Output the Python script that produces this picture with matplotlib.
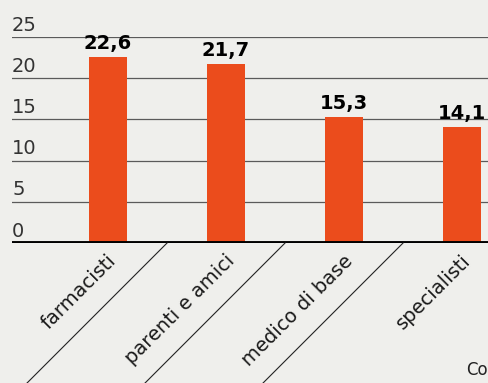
import matplotlib.pyplot as plt
from matplotlib.lines import Line2D
import numpy as np

# --- Dati ---
categorie = ['farmacisti', 'parenti e amici', 'medico di base', 'specialisti']
valori = [22.6, 21.7, 15.3, 14.1]
etichette = ['22,6', '21,7', '15,3', '14,1']
tick_y = [0, 5, 10, 15, 20, 25]

sfondo = '#efefec'
arancio = '#eb4c1c'

fig = plt.figure(figsize=(4.88, 3.83), dpi=100, facecolor=sfondo)
ax = fig.add_axes([12 / 488, 1 - 243 / 383, 476 / 488, 206 / 383])
ax.set_facecolor(sfondo)

x = np.arange(len(categorie))
ax.bar(x, valori, width=0.32, color=arancio, zorder=3)

# valori sopra le barre
for xi, v, t in zip(x, valori, etichette):
    ax.text(xi, v + 0.5, t, ha='center', va='bottom', fontsize=14,
            fontweight='heavy', color='black', zorder=4)

ax.set_xlim(-0.814, 3.22)
ax.set_ylim(0, 25)

# griglia orizzontale e etichette dell'asse y sopra le linee
for yv in tick_y[1:]:
    ax.axhline(yv, color='#5a5a5a', linewidth=0.9, zorder=1)
ax.axhline(0, color='black', linewidth=2.8, zorder=5)
for yv in tick_y:
    ax.text(0.0, yv + 0.3, str(yv), transform=ax.get_yaxis_transform(),
            ha='left', va='bottom', fontsize=14, color='#333333')

for s in ax.spines.values():
    s.set_visible(False)
ax.set_xticks([])
ax.set_yticks([])

# etichette diagonali delle categorie
for xi, c in zip(x, categorie):
    ax.text(xi - 0.01, -1.0, c, rotation=45, rotation_mode='anchor',
            ha='right', va='top', fontsize=14, color='#1a1a1a')

# separatori diagonali tra le categorie
fig.canvas.draw()
to_fig = fig.transFigure.inverted()
for m in (x[:-1] + 0.5):
    px, py = ax.transData.transform((m, 0))
    x0, y0 = to_fig.transform((px, py))
    x1, y1 = to_fig.transform((px - py, 0))
    fig.add_artist(Line2D([x0, x1], [y0, y1], color='#222222', linewidth=0.8))

fig.text(466 / 488, 4 / 383, 'Co', fontsize=12, color='#222222',
         ha='left', va='bottom')

fig.savefig('out.png', dpi=100, facecolor=sfondo)
